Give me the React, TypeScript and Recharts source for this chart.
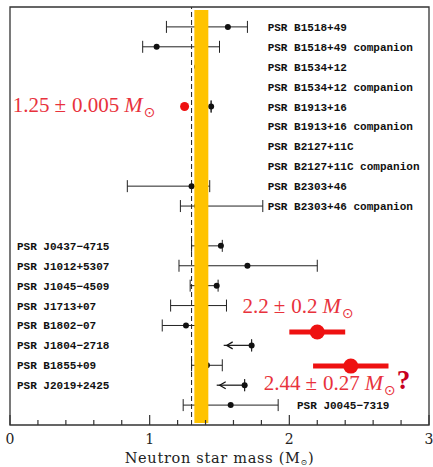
import React from "react";
import {
  ComposedChart,
  Scatter,
  ErrorBar,
  XAxis,
  YAxis,
  ReferenceArea,
  ReferenceLine,
  Label,
} from "recharts";

// pulsar rows, top block then bottom block (row 10 is the gap)
const PULSARS = [
  "PSR B1518+49",
  "PSR B1518+49 companion",
  "PSR B1534+12",
  "PSR B1534+12 companion",
  "PSR B1913+16",
  "PSR B1913+16 companion",
  "PSR B2127+11C",
  "PSR B2127+11C companion",
  "PSR B2303+46",
  "PSR B2303+46 companion",
  "PSR J0437\u22124715",
  "PSR J1012+5307",
  "PSR J1045\u22124509",
  "PSR J1713+07",
  "PSR B1802\u221207",
  "PSR J1804\u22122718",
  "PSR B1855+09",
  "PSR J2019+2425",
  "PSR J0045\u22127319",
];
const ROWS = [0, 1, 2, 3, 4, 5, 6, 7, 8, 9, 11, 12, 13, 14, 15, 16, 17, 18, 19];
const MASSES = [1.56, 1.05, 1.34, 1.35, 1.44, 1.39, 1.35, 1.36, 1.3, 1.34, 1.51, 1.7, 1.48, 1.35, 1.26, 1.73, 1.41, 1.68, 1.58];
const MASS_LO = [1.12, 0.95, 1.33, 1.34, 1.44, 1.39, 1.34, 1.35, 0.84, 1.22, 1.3, 1.21, 1.29, 1.15, 1.09, 1.73, 1.3, 1.68, 1.24];
const MASS_HI = [1.7, 1.5, 1.35, 1.36, 1.44, 1.39, 1.36, 1.37, 1.43, 1.81, 1.52, 2.2, 1.49, 1.55, 1.4, 1.73, 1.52, 1.68, 1.92];
// label anchor (mass units) per row
const LABEL_X = [1.845, 1.845, 1.845, 1.845, 1.845, 1.845, 1.845, 1.845, 1.845, 1.845, 0.05, 0.05, 0.05, 0.05, 0.05, 0.05, 0.05, 0.05, 2.055];

// upper limits drawn as arrows
const LIMIT_ROWS = [16, 18];
const LIMIT_FROM = [1.73, 1.68];
const LIMIT_TO = [1.53, 1.48];

// highlighted measurements
const RED_MASS = [1.25, 2.2, 2.44];
const RED_ERR = [0.005, 0.2, 0.27];
const RED_ROW = [4, 15.33, 17.04];
const RED_R = [4.5, 7.5, 7.5];
const RED_VALUE = ["1.25", "2.2", "2.44"];
const RED_PM = ["0.005", "0.2", "0.27"];
const RED_LABEL_X = [0.02, 1.665, 1.816];
const RED_LABEL_ROW = [4.28, 14.37, 18.24];
const RED_QUERY = [false, false, true];

const BAND = [1.32, 1.42];
const CANONICAL = 1.3;
const XTICKS = [0, 0.2, 0.4, 0.6, 0.8, 1, 1.2, 1.4, 1.6, 1.8, 2, 2.2, 2.4, 2.6, 2.8, 3];

const RED = "#e8323c";
const SERIF = "'DejaVu Serif', serif";

const pulsarData = PULSARS.map((name, i) => ({
  name,
  x: MASSES[i],
  y: ROWS[i],
  err: [MASSES[i] - MASS_LO[i], MASS_HI[i] - MASSES[i]],
}));
const labelData = PULSARS.map((name, i) => ({ name, x: LABEL_X[i], y: ROWS[i] }));
const limitData = LIMIT_ROWS.map((row, i) => ({
  x: LIMIT_TO[i],
  y: row,
  err: [0, LIMIT_FROM[i] - LIMIT_TO[i]],
}));
const redData = RED_MASS.map((m, i) => ({ x: m, y: RED_ROW[i], err: RED_ERR[i], r: RED_R[i] }));
const redLabelData = RED_VALUE.map((v, i) => ({
  x: RED_LABEL_X[i],
  y: RED_LABEL_ROW[i],
  value: v,
  pm: RED_PM[i],
  query: RED_QUERY[i],
}));

const isMajor = (v: number) => Math.abs(v - Math.round(v)) < 1e-6;

const BottomTick = (props: any) => {
  const { x, y, payload } = props;
  const v = payload.value;
  const major = isMajor(v);
  return (
    <g>
      <line x1={x} x2={x} y1={y} y2={y - (major ? 10 : 5)} stroke="#333" strokeWidth={1.2} />
      {major && (
        <text x={x} y={y + 19} textAnchor="middle" fontFamily={SERIF} fontSize={14} fill="#222">
          {v}
        </text>
      )}
    </g>
  );
};

const TopTick = (props: any) => {
  const { x, y, payload } = props;
  const major = isMajor(payload.value);
  return <line x1={x} x2={x} y1={y} y2={y + (major ? 10 : 5)} stroke="#333" strokeWidth={1.2} />;
};

const AxisTitle = (props: any) => {
  const { x, width, y } = props.viewBox;
  return (
    <text
      x={x + width / 2}
      y={y + 38}
      textAnchor="middle"
      fontFamily={SERIF}
      fontSize={14.5}
      letterSpacing={0.7}
      fill="#222"
    >
      Neutron star mass (M<tspan fontSize={8} dy={2}>{"\u2299"}</tspan>
      <tspan dy={-2}>)</tspan>
    </text>
  );
};

export default function App() {
  return (
    <div style={{ position: "absolute", left: 0, top: 0, background: "#fff" }}>
      <ComposedChart width={433} height={467} margin={{ top: 7, right: 4, bottom: 0, left: 10 }}>
        <XAxis
          type="number"
          dataKey="x"
          domain={[0, 3]}
          ticks={XTICKS}
          allowDataOverflow
          height={42}
          tickSize={0}
          tickMargin={0}
          axisLine={false}
          tick={<BottomTick />}
          interval={0}
        >
          <Label content={<AxisTitle />} />
        </XAxis>
        <XAxis
          xAxisId="top"
          orientation="top"
          type="number"
          dataKey="x"
          domain={[0, 3]}
          ticks={XTICKS}
          allowDataOverflow
          height={0}
          tickSize={0}
          tickMargin={0}
          axisLine={false}
          tick={<TopTick />}
          interval={0}
        />
        <YAxis type="number" dataKey="y" domain={[-1, 20]} reversed hide allowDataOverflow />

        <ReferenceLine x={CANONICAL} stroke="#222" strokeDasharray="5 3" strokeWidth={1} />

        <Scatter data={pulsarData} isAnimationActive={false} shape={(p: any) => <circle cx={p.cx} cy={p.cy} r={3} fill="#111" />}>
          <ErrorBar dataKey="err" direction="x" width={6} stroke="#222" strokeWidth={1} />
        </Scatter>
        <Scatter
          data={limitData}
          isAnimationActive={false}
          shape={(p: any) => (
            <path
              d={`M${p.cx + 9},${p.cy - 3.5} L${p.cx + 3},${p.cy} L${p.cx + 9},${p.cy + 3.5}`}
              fill="none"
              stroke="#111"
              strokeWidth={1.2}
            />
          )}
        >
          <ErrorBar dataKey="err" direction="x" width={0} stroke="#222" strokeWidth={1.3} />
        </Scatter>
        <Scatter
          data={labelData}
          isAnimationActive={false}
          shape={(p: any) => (
            <text
              x={p.cx}
              y={p.cy + 4}
              fontFamily="'Liberation Mono', monospace"
              fontWeight="bold"
              fontSize={11}
              fill="#111"
            >
              {p.payload.name}
            </text>
          )}
        />

        <ReferenceArea x1={BAND[0]} x2={BAND[1]} y1={-0.85} y2={19.9} fill="#ffc300" fillOpacity={1} stroke="none" zIndex={650} />
        <ReferenceArea x1={0} x2={3} y1={-1} y2={20} fill="none" stroke="#333" strokeWidth={1.3} zIndex={660} />

        <Scatter
          data={redData}
          isAnimationActive={false}
          zIndex={700}
          shape={(p: any) => <circle cx={p.cx} cy={p.cy} r={p.payload.r} fill="#ee1111" />}
        >
          <ErrorBar dataKey="err" direction="x" width={0} stroke="#ee1111" strokeWidth={5} />
        </Scatter>
        <Scatter
          data={redLabelData}
          isAnimationActive={false}
          zIndex={700}
          shape={(p: any) => (
            <text x={p.cx} y={p.cy} fontFamily="'Liberation Serif', serif" fontSize={21} fill={RED}>
              {p.payload.value}
              <tspan dx={5}>{"\u00b1"}</tspan>
              <tspan dx={6}>{p.payload.pm}</tspan>
              <tspan dx={5} fontStyle="italic" fontSize={22}>M</tspan>
              <tspan dx={1} dy={5} fontSize={14} fontFamily="'DejaVu Sans', sans-serif">
                {"\u2299"}
              </tspan>
              {p.payload.query && (
                <tspan dx={1} dy={-6} fontSize={27} fill="#c8001e" fontWeight="bold">
                  ?
                </tspan>
              )}
            </text>
          )}
        />
      </ComposedChart>
    </div>
  );
}
